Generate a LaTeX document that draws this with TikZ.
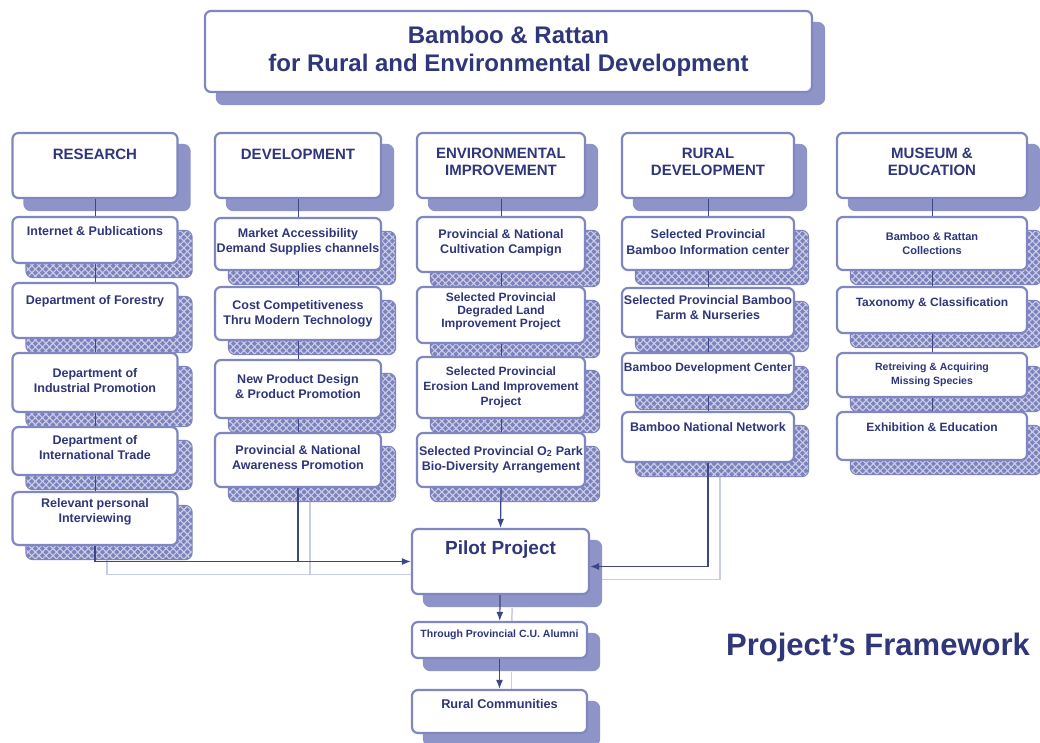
\documentclass[tikz,border=0pt]{standalone}
\usepackage{fontspec}
\setmainfont{Liberation Sans}
\usetikzlibrary{shadows,patterns.meta,arrows.meta,backgrounds}
\definecolor{navy}{HTML}{2F3679}
\definecolor{bord}{HTML}{7F86C0}
\definecolor{lav}{HTML}{8E93C8}
\definecolor{lavdk}{HTML}{7C82BE}
\definecolor{lavlt}{HTML}{C9CCE6}
\definecolor{conn}{HTML}{3E4785}
\newcommand{\liftx}[2]{\raisebox{#1}[\height][\depth]{\begin{tabular}{@{}c@{}}#2\end{tabular}}}
\begin{document}
\begin{tikzpicture}[x=1pt,y=-1pt,
  box/.style={draw=bord, line width=2.2pt, rounded corners=6pt, fill=white, text=navy, inner sep=1pt},
  hshadow/.style={general shadow={shadow xshift=12pt, shadow yshift=-12pt, fill=lav, draw=lav, line width=2.2pt}},
  ishadow/.style={general shadow={shadow xshift=14pt, shadow yshift=-14pt, fill=lavdk, draw=lavdk, line width=2.2pt},
                  general shadow={shadow xshift=14pt, shadow yshift=-14pt, pattern={Hatch[angle=45,distance=5pt,line width=1.1pt]}, pattern color=white!55!lav}},
  ttl/.style={box, hshadow, font=\bfseries\fontsize{24}{28}\selectfont},
  head/.style={box, hshadow, font=\bfseries\fontsize{15}{17}\selectfont},
  item/.style={box, ishadow, font=\bfseries\fontsize{12.5}{15}\selectfont},
  link/.style={draw=conn, line width=0.8pt},
  arr/.style={draw=conn, line width=1.2pt, -{Latex[length=9pt,width=7pt]}},
  lsh/.style={draw=lavlt, line width=1.5pt, transform canvas={shift={(12pt,-13pt)}}},
]
\useasboundingbox (0,0) rectangle (1040,743);

% title
\node[ttl, minimum width=607, minimum height=81] (title) at (508.5,51.5)
  {\liftx{0pt}{Bamboo \& Rattan\\for Rural and Environmental Development}};

% headers
\node[head, minimum width=165, minimum height=65] (res) at (95,165.5) {\liftx{9pt}{RESEARCH}};
\node[head, minimum width=166, minimum height=65] (dev) at (298,165.5) {\liftx{9pt}{DEVELOPMENT}};
\node[head, minimum width=168, minimum height=65] (env) at (501,165.5) {\liftx{2pt}{ENVIRONMENTAL\\IMPROVEMENT}};
\node[head, minimum width=172, minimum height=65] (rur) at (708,165.5) {\liftx{2pt}{RURAL\\DEVELOPMENT}};
\node[head, minimum width=190, minimum height=65] (mus) at (932,165.5) {\liftx{2pt}{MUSEUM \&\\EDUCATION}};

% research
\node[item, minimum width=165, minimum height=46] (r1) at (95,240) {\liftx{7pt}{Internet \& Publications}};
\node[item, minimum width=165, minimum height=55] (r2) at (95,310.5) {\liftx{9pt}{Department of Forestry}};
\node[item, minimum width=165, minimum height=59] (r3) at (95,382.5) {\liftx{1pt}{Department of\\Industrial Promotion}};
\node[item, minimum width=165, minimum height=48] (r4) at (95,451) {\liftx{2pt}{Department of\\International Trade}};
\node[item, minimum width=165, minimum height=53] (r5) at (95,518.5) {\liftx{7pt}{Relevant personal\\Interviewing}};

% development
\node[item, minimum width=166, minimum height=52] (d1) at (298,244) {\liftx{2pt}{Market Accessibility\\Demand Supplies channels}};
\node[item, minimum width=166, minimum height=53] (d2) at (298,313.5) {\liftx{0pt}{Cost Competitiveness\\Thru Modern Technology}};
\node[item, minimum width=166, minimum height=58] (d3) at (298,389) {\liftx{1.5pt}{New Product Design\\\& Product Promotion}};
\node[item, minimum width=166, minimum height=54] (d4) at (298,460) {\liftx{1.5pt}{Provincial \& National\\Awareness Promotion}};

% environmental improvement
\node[item, minimum width=168, minimum height=55] (e1) at (501,244.5) {\liftx{2pt}{Provincial \& National\\Cultivation Campign}};
\node[item, minimum width=168, minimum height=56, font=\bfseries\fontsize{12}{13}\selectfont] (e2) at (501,315) {\liftx{3pt}{Selected Provincial\\Degraded Land\\Improvement Project}};
\node[item, minimum width=168, minimum height=61, font=\bfseries\fontsize{12}{15}\selectfont] (e3) at (501,387.5) {\liftx{0.5pt}{Selected Provincial\\Erosion Land Improvement\\Project}};
\node[item, minimum width=168, minimum height=54] (e4) at (501,460) {\liftx{0.5pt}{Selected Provincial O\textsubscript{2} Park\\Bio-Diversity Arrangement}};

% rural development
\node[item, minimum width=172, minimum height=53] (u1) at (708,243.5) {\liftx{0pt}{Selected Provincial\\Bamboo Information center}};
\node[item, minimum width=172, minimum height=49] (u2) at (708,312.5) {\liftx{4pt}{Selected Provincial Bamboo\\Farm \& Nurseries}};
\node[item, minimum width=172, minimum height=42, font=\bfseries\fontsize{12}{15}\selectfont] (u3) at (708,374) {\liftx{6pt}{Bamboo Development Center}};
\node[item, minimum width=172, minimum height=50] (u4) at (708,437) {\liftx{9pt}{Bamboo National Network}};

% museum & education
\node[item, minimum width=190, minimum height=53, font=\bfseries\fontsize{11}{14}\selectfont] (m1) at (932,243.5) {\liftx{-1pt}{Bamboo \& Rattan\\Collections}};
\node[item, minimum width=190, minimum height=46, font=\bfseries\fontsize{12}{15}\selectfont] (m2) at (932,310) {\liftx{7pt}{Taxonomy \& Classification}};
\node[item, minimum width=190, minimum height=44, font=\bfseries\fontsize{10.5}{14}\selectfont] (m3) at (932,375) {\liftx{0pt}{Retreiving \& Acquiring\\Missing Species}};
\node[item, minimum width=190, minimum height=48, font=\bfseries\fontsize{12}{15}\selectfont] (m4) at (932,436) {\liftx{8pt}{Exhibition \& Education}};

% pilot chain
\node[head, minimum width=177, minimum height=65, font=\bfseries\fontsize{19}{22}\selectfont] (pil) at (500.5,561.5) {\liftx{11pt}{Pilot Project}};
\node[head, minimum width=175, minimum height=36, font=\bfseries\fontsize{10.5}{13}\selectfont] (thr) at (499.5,640) {\liftx{5pt}{Through Provincial C.U. Alumni}};
\node[head, minimum width=175, minimum height=43, font=\bfseries\fontsize{12.7}{15}\selectfont] (com) at (499.5,711.5) {\liftx{6.5pt}{Rural Communities}};

\node[text=navy, font=\bfseries\fontsize{31}{34}\selectfont, inner sep=0pt] (pf) at (878,647) {Project’s Framework};

% column links
\draw[link] (res) -- (r1); \draw[link] (r1) -- (r2); \draw[link] (r2) -- (r3); \draw[link] (r3) -- (r4); \draw[link] (r4) -- (r5);
\draw[link] (dev) -- (d1); \draw[link] (d1) -- (d2); \draw[link] (d2) -- (d3); \draw[link] (d3) -- (d4);
\draw[link] (env) -- (e1); \draw[link] (e1) -- (e2); \draw[link] (e2) -- (e3); \draw[link] (e3) -- (e4);
\draw[link] (rur) -- (u1); \draw[link] (u1) -- (u2); \draw[link] (u2) -- (u3); \draw[link] (u3) -- (u4);
\draw[link] (mus) -- (m1); \draw[link] (m1) -- (m2); \draw[link] (m2) -- (m3); \draw[link] (m3) -- (m4);

% flows into the pilot project
\draw[arr] (r5.south) |- (pil.west);
\draw[link, line width=1.2pt] (d4.south) -- (d4.south |- pil.west);
\draw[arr] (e4.south) -- (pil.north);
\draw[arr] (u4.south) |- ([yshift=-5pt]pil.east);
\draw[arr] (pil) -- (thr);
\draw[arr] (thr) -- (com);

\begin{pgfonlayer}{background}
\fill[white] (0,0) rectangle (1040,743);
\draw[lsh] (r5.south) |- (pil.west);
\draw[lsh] (d4.south) -- (d4.south |- pil.west);
\draw[lsh] (u4.south) |- ([yshift=-5pt]pil.east);
\draw[lsh] (pil) -- (thr);
\draw[lsh] (thr) -- (com);
\end{pgfonlayer}
\end{tikzpicture}
\end{document}
